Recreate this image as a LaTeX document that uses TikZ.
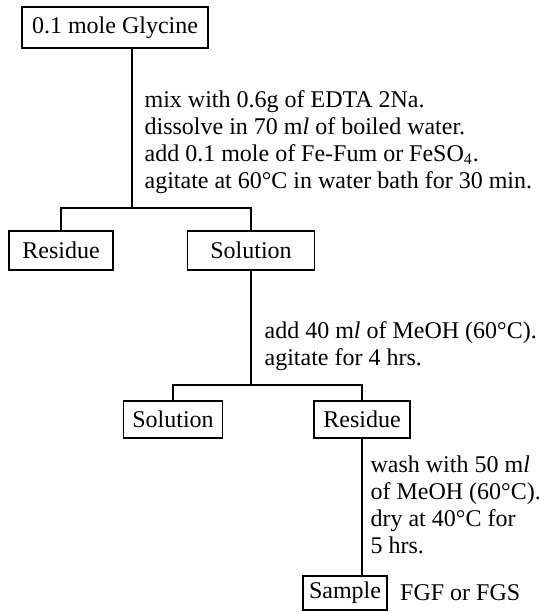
\documentclass[tikz,border=0pt]{standalone}
\usepackage{fontspec}
\setmainfont{Liberation Serif}
\usetikzlibrary{positioning}

\begin{document}
\begin{tikzpicture}[
    x=0.5pt, y=-0.5pt,
    line width=0.6pt,
    box/.style={rectangle, draw, text centered, inner sep=0pt, font=\fontsize{12}{13.5}\selectfont},
    note/.style={anchor=west, align=left, inner sep=0pt, font=\fontsize{12}{13.5}\selectfont}
]

\useasboundingbox (0,0) rectangle (538,612);

\coordinate (split1) at (132,208);
\coordinate (split2) at (251,385);


\node[box, minimum width=93pt, minimum height=20.5pt] (glycine) at (115,27.5) {0.1 mole Glycine};
\node[box, minimum width=52pt, minimum height=19.5pt] (residue1) at (61,250.5) {Residue};
\node[box, minimum width=63.5pt, minimum height=19.5pt] (solution1) at (251,250.5) {Solution};
\node[box, minimum width=49.5pt, minimum height=18.5pt] (solution2) at (173,419.5) {Solution};
\node[box, minimum width=48pt, minimum height=18.5pt] (residue2) at (362,419.5) {Residue};
\node[box, inner xsep=3pt, minimum height=17pt] (sample) at (345,593) {Sample};


\node[note] (step1) at (144,142) {mix with 0.6g of EDTA 2Na.\\
    dissolve in 70 m\textit{l} of boiled water.\\
    add 0.1 mole of Fe-Fum or FeSO\textsubscript{4}.\\
    agitate at 60°C in water bath for 30 min.};
\node[note] (step2) at (264,346) {add 40 m\textit{l} of MeOH (60°C).\\
    agitate for 4 hrs.};
\node[note] (step3) at (370,505) {wash with 50 m\textit{l}\\
    of MeOH (60°C).\\
    dry at 40°C for\\
    5 hrs.};
\node[note, right=6pt of sample] (product) {FGF or FGS};


\draw (glycine.south -| split1) -- (split1);
\draw (residue1.north) |- (split1) -| (solution1.north);

\draw (solution1.south) -- (split2);
\draw (solution2.north) |- (split2) -| (residue2.north);

\draw (residue2.south) -- (residue2.south |- sample.north);

\end{tikzpicture}
\end{document}
